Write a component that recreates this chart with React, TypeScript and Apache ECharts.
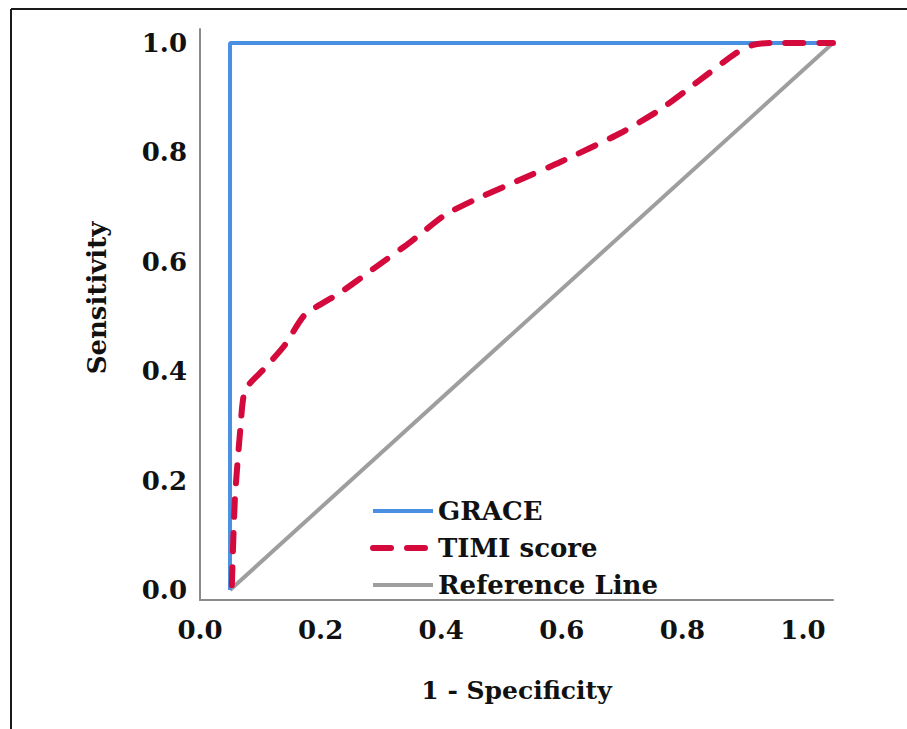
import React, { useEffect, useRef } from "react";
import * as echarts from "echarts";

const SERIES_NAMES = ["GRACE", "TIMI score", "Reference Line"];

const GRACE_X = [0, 0, 1];
const GRACE_Y = [0, 1, 1];

const TIMI_X = [0.003, 0.008, 0.017, 0.025, 0.058, 0.091, 0.124, 0.182, 0.24, 0.299, 0.357, 0.415, 0.481, 0.547, 0.647, 0.713, 0.779, 0.837, 0.866, 0.896, 1.0];
const TIMI_Y = [0.009, 0.165, 0.293, 0.366, 0.406, 0.448, 0.503, 0.543, 0.589, 0.636, 0.686, 0.718, 0.75, 0.782, 0.835, 0.878, 0.932, 0.98, 0.996, 1.0, 1.0];

const REF_X = [0, 1];
const REF_Y = [0, 1];

const X_TICKS = [0, 0.2, 0.4, 0.6, 0.8, 1.0];
const Y_TICKS = [0, 0.2, 0.4, 0.6, 0.8, 1.0];

const X_TITLE = "1 - Specificity";
const Y_TITLE = "Sensitivity";

const zip = (xs: number[], ys: number[]) => xs.map((x, i) => [x, ys[i]]);

const FONT = "DejaVu Serif";

export default function App() {
  const ref = useRef<HTMLDivElement>(null);

  useEffect(() => {
    document.body.style.margin = "0";
    if (!ref.current) return;
    const chart = echarts.init(ref.current, null, { renderer: "svg" });
    const labelStyle = {
      fontFamily: FONT,
      fontWeight: "bold" as const,
      fontSize: 26,
      color: "#111",
    };
    chart.setOption({
      animation: false,
      backgroundColor: "#ffffff",
      grid: { left: 200, right: 74, top: 29, bottom: 129, containLabel: false },
      xAxis: [
        {
          type: "value",
          min: -0.0498,
          max: 1,
          position: "bottom",
          axisLine: { show: true, onZero: false, lineStyle: { color: "#8a8a8a", width: 2 } },
          axisTick: { show: false },
          axisLabel: { show: false },
          splitLine: { show: false },
          name: X_TITLE,
          nameLocation: "middle",
          nameGap: 78,
          nameTextStyle: { ...labelStyle, fontSize: 25 },
        },
        {
          type: "value",
          min: 0,
          max: 1.0498,
          position: "bottom",
          axisLine: { show: false, onZero: false },
          axisTick: { show: false },
          splitLine: { show: false },
          axisLabel: {
            ...labelStyle,
            margin: 17,
            showMinLabel: true,
            customValues: X_TICKS,
            formatter: (v: number) => v.toFixed(1),
          },
        },
      ],
      yAxis: {
        type: "value",
        min: -0.0183,
        max: 1.0256,
        axisLine: { show: true, onZero: false, lineStyle: { color: "#8a8a8a", width: 2 } },
        axisTick: { show: false },
        splitLine: { show: false },
        axisLabel: {
          ...labelStyle,
          margin: 13,
          customValues: Y_TICKS,
          formatter: (v: number) => v.toFixed(1),
        },
      },
      legend: {
        orient: "vertical",
        left: 365,
        top: 493,
        itemWidth: 60,
        itemHeight: 20,
        itemGap: 11,
        data: SERIES_NAMES,
        itemStyle: { opacity: 0 },
        lineStyle: { width: "inherit" },
        textStyle: { ...labelStyle, lineHeight: 26 },
      },
      graphic: [
        { type: "line", shape: { x1: 11, y1: 9, x2: 907, y2: 9 }, style: { stroke: "#1a1a1a", lineWidth: 2 } },
        { type: "line", shape: { x1: 11, y1: 9, x2: 11, y2: 729 }, style: { stroke: "#1a1a1a", lineWidth: 2 } },
        {
          type: "text",
          x: 97,
          y: 298,
          rotation: Math.PI / 2,
          style: {
            text: Y_TITLE,
            fontFamily: FONT,
            fontWeight: "bold",
            fontSize: 26,
            fill: "#111",
            align: "center",
            verticalAlign: "middle",
          },
        },
      ],
      series: [
        {
          name: SERIES_NAMES[2],
          type: "line",
          xAxisIndex: 0,
          data: zip(REF_X, REF_Y),
          symbol: "none",
          lineStyle: { color: "#9e9e9e", width: 4 },
          itemStyle: { color: "#9e9e9e" },
          z: 2,
        },
        {
          name: SERIES_NAMES[0],
          type: "line",
          xAxisIndex: 0,
          data: zip(GRACE_X, GRACE_Y),
          symbol: "none",
          lineStyle: { color: "#4a90e2", width: 4 },
          itemStyle: { color: "#4a90e2" },
          z: 3,
        },
        {
          name: SERIES_NAMES[1],
          type: "line",
          xAxisIndex: 0,
          data: zip(TIMI_X, TIMI_Y),
          symbol: "none",
          smooth: 0.2,
          lineStyle: { color: "#d50a3c", width: 6, type: [18, 16], cap: "round" },
          itemStyle: { color: "#d50a3c" },
          z: 4,
        },
      ],
    });
    return () => chart.dispose();
  }, []);

  return <div ref={ref} style={{ width: 907, height: 729 }} />;
}
